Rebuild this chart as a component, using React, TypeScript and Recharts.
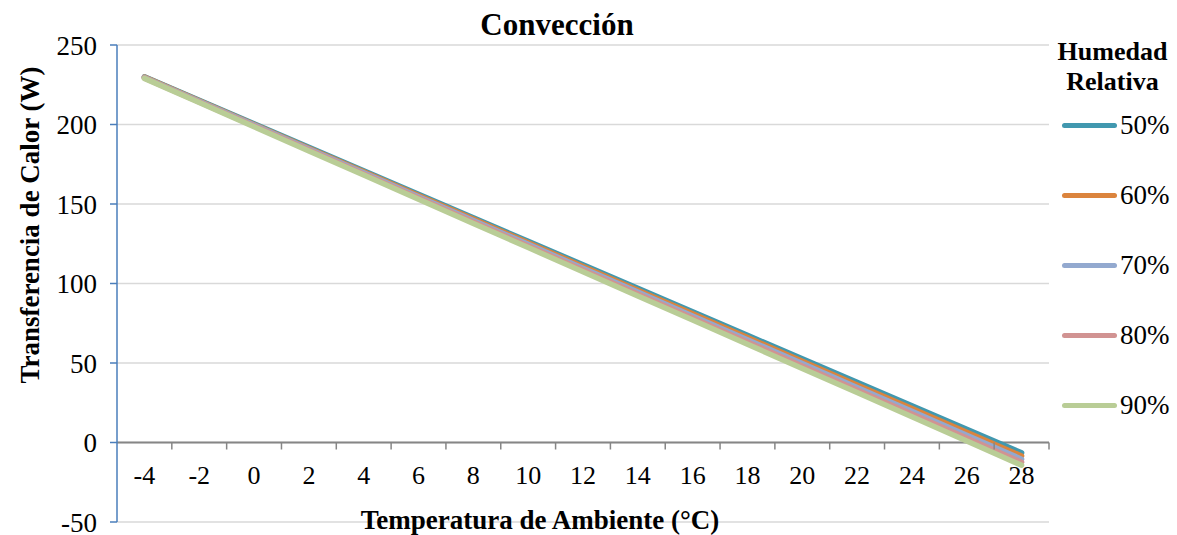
import { LineChart, Line, XAxis, YAxis, CartesianGrid, ReferenceLine, Legend } from 'recharts';

// temperatura ambiente (°C)
const categories = ['-4', '-2', '0', '2', '4', '6', '8', '10', '12', '14', '16', '18', '20', '22', '24', '26', '28'];

// transferencia de calor (W) por humedad relativa
const h50 = [230, 215.2, 200.4, 185.6, 170.9, 156.1, 141.3, 126.5, 111.8, 97, 82.2, 67.4, 52.6, 37.9, 23.1, 8.3, -6.5];
const h60 = [229.8, 214.9, 200, 185.1, 170.3, 155.4, 140.5, 125.6, 110.7, 95.8, 80.9, 66, 51.1, 36.2, 21.3, 6.4, -8.5];
const h70 = [229.6, 214.6, 199.6, 184.6, 169.6, 154.6, 139.6, 124.6, 109.6, 94.6, 79.6, 64.6, 49.6, 34.6, 19.6, 4.6, -10.5];
const h80 = [229.3, 214.2, 199.1, 184, 168.9, 153.8, 138.7, 123.6, 108.5, 93.4, 78.3, 63.2, 48.1, 33, 17.9, 2.8, -12.4];
const h90 = [229, 213.8, 198.6, 183.4, 168.2, 153, 137.8, 122.6, 107.4, 92.2, 77, 61.8, 46.6, 31.4, 16.2, 1, -14.3];

const seriesNames = ['50%', '60%', '70%', '80%', '90%'];
const seriesColors = ['#4198AF', '#DB843D', '#93A9CF', '#D19392', '#B9CD96'];
const seriesValues = [h50, h60, h70, h80, h90];

const yTicks = [-50, 0, 50, 100, 150, 200, 250];

const data = categories.map((t, i) => {
    const row: Record<string, number | string> = { t };
    seriesNames.forEach((n, s) => {
        row[n] = seriesValues[s][i];
    });
    return row;
});

const FONT = '"Liberation Serif", "Times New Roman", serif';
const W = 1177;
const H = 535;
const X_AXIS_H = 13;
const MARGIN = { top: 45, right: 128, bottom: 0, left: 0 };
const PLOT_W = W - 117 - MARGIN.right;
const PLOT_H = H - MARGIN.top - X_AXIS_H;
const BAND = PLOT_W / categories.length;
const Y_MIN = -50;
const Y_MAX = 250;
// distance from the bottom of the plot up to the zero line, where the category axis crosses
const ZERO_OFF = (PLOT_H * (0 - Y_MIN)) / (Y_MAX - Y_MIN);

function XTick(props: any) {
    const { x, y, payload } = props;
    const zy = y - ZERO_OFF;
    return (
        <g>
            <line x1={x + BAND / 2} y1={zy} x2={x + BAND / 2} y2={zy + 7} stroke="#868686" strokeWidth={1.5} />
            <text x={x} y={zy + 41} textAnchor="middle" fontSize={26} fontFamily={FONT} fill="#000">
                {payload.value}
            </text>
        </g>
    );
}

function LegendBox(props: any) {
    const payload = props.payload || [];
    return (
        <div style={{ fontFamily: FONT, width: 127, color: '#000' }}>
            <div style={{ fontWeight: 'bold', fontSize: 26, lineHeight: '30px', textAlign: 'center', marginLeft: -2, marginBottom: -7 }}>
                Humedad
                <br />
                Relativa
            </div>
            {payload.map((p: any) => (
                <div key={p.value} style={{ display: 'flex', alignItems: 'center', height: 70 }}>
                    <div style={{ width: 55, height: 5, borderRadius: 3, background: p.color, marginLeft: 12 }} />
                    <span style={{ fontSize: 27, marginLeft: 3 }}>{p.value}</span>
                </div>
            ))}
        </div>
    );
}

export default function App() {
    return (
        <div style={{ position: 'absolute', left: 0, top: 0, width: W, height: H, background: '#fff', fontFamily: FONT }}>
            <LineChart width={W} height={H} data={data} margin={MARGIN}>
                <CartesianGrid vertical={false} stroke="#d9d9d9" strokeWidth={1.5} />
                <XAxis
                    dataKey="t"
                    height={X_AXIS_H}
                    padding={{ left: BAND / 2, right: BAND / 2 }}
                    axisLine={false}
                    tickLine={false}
                    tickSize={0}
                    tickMargin={0}
                    interval={0}
                    tick={<XTick />}
                />
                <YAxis
                    width={117}
                    domain={[Y_MIN, Y_MAX]}
                    ticks={yTicks}
                    interval={0}
                    axisLine={{ stroke: '#4a7ebb', strokeWidth: 1.5 }}
                    tickLine={{ stroke: '#4a7ebb', strokeWidth: 1.5 }}
                    tickSize={7}
                    tickMargin={13}
                    tick={{ fill: '#000', fontSize: 27, fontFamily: FONT }}
                />
                <YAxis
                    yAxisId="right"
                    orientation="right"
                    width={0}
                    domain={[Y_MIN, Y_MAX]}
                    tick={false}
                    tickLine={false}
                    axisLine={{ stroke: '#d9d9d9', strokeWidth: 1.5 }}
                />
                <ReferenceLine y={0} stroke="#868686" strokeWidth={2} />
                {seriesNames.map((n, s) => (
                    <Line
                        key={n}
                        type="linear"
                        dataKey={n}
                        name={n}
                        stroke={seriesColors[s]}
                        strokeWidth={5.5}
                        strokeLinecap="round"
                        dot={false}
                        activeDot={false}
                        isAnimationActive={false}
                    />
                ))}
                <Legend
                    layout="vertical"
                    align="center"
                    verticalAlign="middle"
                    content={<LegendBox />}
                    wrapperStyle={{ left: 1050, top: 37, width: 127 }}
                />
            </LineChart>
            <div
                style={{
                    position: 'absolute',
                    left: 557,
                    top: 25,
                    transform: 'translate(-50%, -50%)',
                    fontWeight: 'bold',
                    fontSize: 31,
                    whiteSpace: 'nowrap',
                }}
            >
                Convección
            </div>
            <div
                style={{
                    position: 'absolute',
                    left: 540,
                    top: 520,
                    transform: 'translate(-50%, -50%)',
                    fontWeight: 'bold',
                    fontSize: 27,
                    whiteSpace: 'nowrap',
                }}
            >
                Temperatura de Ambiente (°C)
            </div>
            <div
                style={{
                    position: 'absolute',
                    left: 30,
                    top: 225,
                    transform: 'translate(-50%, -50%) rotate(-90deg)',
                    fontWeight: 'bold',
                    fontSize: 27,
                    whiteSpace: 'nowrap',
                }}
            >
                Transferencia de Calor (W)
            </div>
        </div>
    );
}
